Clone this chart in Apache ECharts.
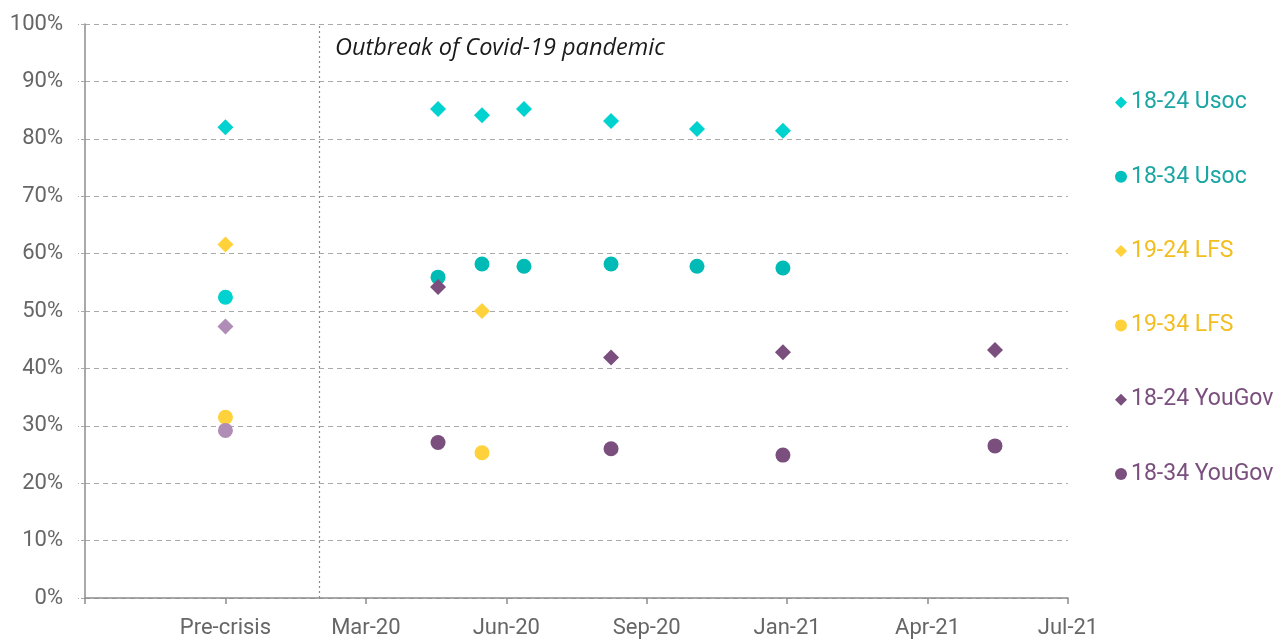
<!DOCTYPE html>
<html>
<head>
<meta charset="utf-8">
<script src="https://cdn.jsdelivr.net/npm/echarts@6/dist/echarts.min.js"></script>
<style>
  html, body { margin: 0; padding: 0; background: #fff; }
  #chart { width: 1286px; height: 639px; }
</style>
</head>
<body>
<div id="chart"></div>
<script>
// x positions are on an index scale: 1 = Pre-crisis, 2 = Mar-20, 3 = Jun-20 ...
const xTickLabels = ['', 'Pre-crisis', 'Mar-20', 'Jun-20', 'Sep-20', 'Jan-21', 'Apr-21', 'Jul-21']
const outbreakX = 1.667

const usoc1824 = [[1, 82.0], [2.514, 85.2], [2.827, 84.1], [3.126, 85.2], [3.746, 83.1], [4.358, 81.7], [4.97, 81.4]]
const usoc1834 = [[1, 52.4], [2.514, 55.9], [2.827, 58.2], [3.126, 57.8], [3.746, 58.2], [4.358, 57.8], [4.97, 57.5]]
const lfs1924 = [[1, 61.6], [2.827, 50.0]]
const lfs1934 = [[1, 31.5], [2.827, 25.3]]
const yougov1824 = [[1, 47.3], [2.514, 54.2], [3.746, 41.9], [4.97, 42.8], [6.48, 43.2]]
const yougov1834 = [[1, 29.2], [2.514, 27.1], [3.746, 26.0], [4.97, 24.9], [6.48, 26.5]]

const TURQ = '#00D2D0'
const TEAL = '#00BAB6'
const YELLOW = '#FFD23C'
const PURPLE = '#7A4F7E'
const PURPLE_LIGHT = '#B08DB6'
const FONT = 'Roboto, "Noto Sans", sans-serif'

const chart = echarts.init(document.getElementById('chart'))

// pre-crisis points of some series use a lighter shade
const withPreColor = (data, color) =>
  data.map((d) => (d[0] === 1 ? { value: d, itemStyle: { color } } : d))

const scatter = (name, symbol, size, color, data) => ({
  name,
  type: 'scatter',
  symbol,
  symbolSize: size,
  itemStyle: { color, opacity: 1 },
  data,
})

const series = [
  scatter('18-24 Usoc', 'diamond', 16, TURQ, usoc1824),
  scatter('18-34 Usoc', 'circle', 15, TEAL, withPreColor(usoc1834, TURQ)),
  scatter('19-24 LFS', 'diamond', 16, YELLOW, lfs1924),
  scatter('19-34 LFS', 'circle', 15, YELLOW, lfs1934),
  scatter('18-24 YouGov', 'diamond', 16, PURPLE, withPreColor(yougov1824, PURPLE_LIGHT)),
  scatter('18-34 YouGov', 'circle', 15, PURPLE, withPreColor(yougov1834, PURPLE_LIGHT)),
]

series[0].markLine = {
  silent: true,
  symbol: 'none',
  label: { show: false },
  lineStyle: { color: '#8a8a8a', type: [2, 3], width: 1.2 },
  data: [{ xAxis: outbreakX }],
}

const legendColors = ['#1BA6A4', '#1BA6A4', '#F2BE1F', '#F2BE1F', PURPLE, PURPLE]

chart.setOption({
  animation: false,
  textStyle: { fontFamily: FONT },
  grid: { left: 85, right: 218, top: 24, bottom: 41 },
  legend: {
    orient: 'vertical',
    left: 1110,
    top: 86,
    itemGap: 51.3,
    itemWidth: 12,
    itemHeight: 12,
    selectedMode: false,
    data: series.map((s, i) => ({
      name: s.name,
      icon: s.symbol,
      itemStyle: { color: i === 1 ? '#00BFBF' : undefined },
      textStyle: { color: legendColors[i], fontSize: 23, fontFamily: FONT, padding: [0, 0, 0, -1] },
    })),
  },
  graphic: [
    {
      type: 'text',
      left: 335,
      top: 37,
      style: {
        text: 'Outbreak of Covid-19 pandemic',
        font: 'italic 23.5px "Open Sans", Lato, sans-serif',
        fill: '#1a1a1a',
      },
    },
  ],
  xAxis: {
    type: 'value',
    min: 0,
    max: 7,
    interval: 1,
    axisLine: { show: true, lineStyle: { color: '#8c8c8c', width: 1.5 } },
    axisTick: { show: true, length: 6, lineStyle: { color: '#8c8c8c', width: 1.5 } },
    axisLabel: {
      color: '#666',
      fontSize: 22,
      margin: 19,
      formatter: (v) => xTickLabels[Math.round(v)] || '',
    },
    splitLine: { show: false },
  },
  yAxis: {
    type: 'value',
    min: 0,
    max: 100,
    interval: 10,
    axisLine: { show: true, lineStyle: { color: '#8c8c8c', width: 1.5 } },
    axisTick: { show: true, length: 7, lineStyle: { color: '#aaa', type: 'dashed' } },
    axisLabel: { color: '#666', fontSize: 22, margin: 22, formatter: '{value}%' },
    splitLine: { lineStyle: { color: '#aaa', type: [5, 4], width: 1 } },
  },
  series,
})
</script>
</body>
</html>
